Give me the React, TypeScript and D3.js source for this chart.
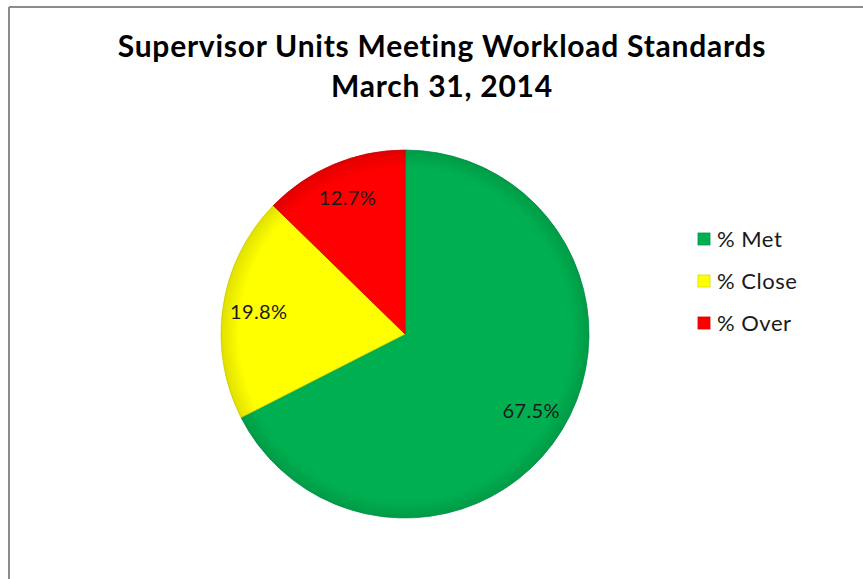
import React from "react";
import * as d3 from "d3";

const titleLines = ["Supervisor Units Meeting Workload Standards", "March 31, 2014"];
const categories = ["% Met", "% Close", "% Over"];
const values = [67.5, 19.8, 12.7];
const labels = ["67.5%", "19.8%", "12.7%"];
const colors = ["#00B050", "#FFFF00", "#FF0000"];
const darkColors = ["#00964A", "#D9D900", "#D00000"];

const W = 863;
const H = 579;
const cx = 405;
const cy = 334;
const R = 184;

export default function App() {
  const pie = d3.pie<number>().sort(null).value((d) => d);
  const arcs = pie(values);
  const arc = d3.arc<d3.PieArcDatum<number>>().innerRadius(0).outerRadius(R);
  const labelArc = d3.arc<d3.PieArcDatum<number>>().innerRadius(148).outerRadius(148);
  const font = "Lato, 'Open Sans', sans-serif";

  return (
    <svg
      width={W}
      height={H}
      style={{ position: "absolute", left: 0, top: 0, background: "#fff" }}
    >
      <defs>
        <radialGradient id="rim" cx={cx} cy={cy} r={R} gradientUnits="userSpaceOnUse">
          <stop offset="0%" stopColor="#000" stopOpacity={0} />
          <stop offset="90%" stopColor="#000" stopOpacity={0} />
          <stop offset="100%" stopColor="#000" stopOpacity={0.12} />
        </radialGradient>
      </defs>
      <rect x={0} y={0} width={W} height={H} fill="#fff" />
      <line x1={9} y1={7} x2={W} y2={7} stroke="#8c8c8c" strokeWidth={2} />
      <line x1={9} y1={7} x2={9} y2={H} stroke="#8c8c8c" strokeWidth={2} />
      <g fontFamily={font} fontWeight="bold" fill="#000" textAnchor="middle" fontSize={30} letterSpacing={0.75}>
        <text x={442} y={57}>{titleLines[0]}</text>
        <text x={442} y={97}>{titleLines[1]}</text>
      </g>
      <g>
        {arcs.map((a, i) => (
          <path
            key={i}
            d={arc(a) || ""}
            transform={`translate(${cx},${cy})`}
            fill={colors[i]}
            stroke={darkColors[i]}
            strokeWidth={0.8}
          />
        ))}
        <circle cx={cx} cy={cy} r={R} fill="url(#rim)" />
        {arcs.map((a, i) => {
          const [x, y] = labelArc.centroid(a);
          return (
            <text
              key={i}
              x={cx + x}
              y={cy + y}
              dy="0.35em"
              textAnchor="middle"
              fontFamily={font}
              fontSize={20}
              letterSpacing={0.4}
              fill="#1a1a1a"
            >
              {labels[i]}
            </text>
          );
        })}
      </g>
      <g fontFamily={font} fontSize={22} fill="#1a1a1a" letterSpacing={0.5}>
        {categories.map((c, i) => (
          <g key={i} transform={`translate(698,${239 + i * 42})`}>
            <rect x={0} y={-6} width={12} height={12} fill={colors[i]} stroke={darkColors[i]} strokeWidth={0.8} />
            <text x={19} y={0} dy="0.35em">{c}</text>
          </g>
        ))}
      </g>
    </svg>
  );
}
